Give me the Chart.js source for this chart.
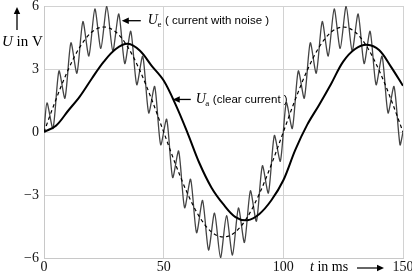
<!DOCTYPE html>
<html>
<head>
<meta charset="utf-8">
<script src="https://cdn.jsdelivr.net/npm/chart.js@4/dist/chart.umd.min.js"></script>
<style>
  body { margin: 0; background: #fff; }
  #wrap { width: 412px; height: 273px; }
</style>
</head>
<body>
<div id="wrap"><canvas id="chart" width="412" height="273"></canvas></div>
<script>
// time axis ticks (ms) and voltage ticks (V)
const xTicks = [0, 50, 100, 150];
const yTicks = [-6, -3, 0, 3, 6];

// U_e : current with noise (peaks / troughs)
const tNoisy = [0, 1.25, 3.75, 6.25, 8.75, 11.25, 13.75, 16.25, 18.75, 21.25, 23.75, 26.25, 28.75,
  31.25, 33.75, 36.25, 38.75, 41.25, 43.75, 46.25, 48.75, 51.25, 53.75, 56.25, 58.75, 61.25, 63.75,
  66.25, 68.75, 71.25, 73.75, 76.25, 78.75, 81.25, 83.75, 86.25, 88.75, 91.25, 93.75, 96.25, 98.75,
  101.25, 103.75, 106.25, 108.75, 111.25, 113.75, 116.25, 118.75, 121.25, 123.75, 126.25, 128.75,
  131.25, 133.75, 136.25, 138.75, 141.25, 143.75, 146.25, 148.75, 150];
const uNoisy = [0, 1.39, 0.17, 2.91, 1.61, 4.25, 2.80, 5.26, 3.62, 5.86, 3.98, 5.98, 3.86,
  5.62, 3.26, 4.80, 2.25, 3.61, 0.91, 2.17, -0.61, 0.61, -2.17, -0.91, -3.61, -2.25, -4.80,
  -3.26, -5.62, -3.86, -5.98, -3.98, -5.86, -3.62, -5.26, -2.80, -4.25, -1.61, -2.91, -0.17, -1.39,
  1.39, 0.17, 2.91, 1.61, 4.25, 2.80, 5.26, 3.62, 5.86, 3.98, 5.98, 3.86,
  5.62, 3.26, 4.80, 2.25, 3.61, 0.91, 2.17, -0.61, 0];

// dashed underlying signal
const tIdeal = [0, 5, 10, 15, 20, 25, 30, 35, 40, 45, 50, 55, 60, 65, 70, 75, 80, 85, 90, 95,
  100, 105, 110, 115, 120, 125, 130, 135, 140, 145, 150];
const uIdeal = [0, 1.55, 2.94, 4.05, 4.76, 5, 4.76, 4.05, 2.94, 1.55, 0, -1.55, -2.94, -4.05, -4.76,
  -5, -4.76, -4.05, -2.94, -1.55, 0, 1.55, 2.94, 4.05, 4.76, 5, 4.76, 4.05, 2.94, 1.55, 0];

// U_a : clear current
const tClear = [0, 5, 10, 15, 20, 25, 30, 35, 40, 45, 50, 55, 60, 65, 70, 75, 80, 85, 90, 95,
  100, 105, 110, 115, 120, 125, 130, 135, 140, 145, 150];
const uClear = [0, 0.3, 1.0, 1.7, 2.55, 3.35, 3.95, 4.2, 3.88, 3.15, 2.45, 1.3, -0.05, -1.5, -2.65,
  -3.45, -4.05, -4.2, -3.9, -3.25, -2.3, -0.85, 0.35, 1.3, 2.3, 3.35, 3.95, 4.15, 3.9, 3.1, 2.2];

function pts(xs, ys) {
  return xs.map((x, i) => ({x: x, y: ys[i]}));
}

const serif = "'Liberation Serif', 'DejaVu Serif', serif";
const sans = "'Liberation Sans', Arial, sans-serif";

function arrow(ctx, x1, y1, x2, y2) {
  // line from (x1,y1) with a filled head at (x2,y2)
  const a = Math.atan2(y2 - y1, x2 - x1);
  const hl = 7, hw = 3.2;
  ctx.beginPath();
  ctx.moveTo(x1, y1);
  ctx.lineTo(x2 - Math.cos(a) * hl * 0.8, y2 - Math.sin(a) * hl * 0.8);
  ctx.stroke();
  ctx.beginPath();
  ctx.moveTo(x2, y2);
  ctx.lineTo(x2 - Math.cos(a) * hl - Math.sin(a) * hw, y2 - Math.sin(a) * hl + Math.cos(a) * hw);
  ctx.lineTo(x2 - Math.cos(a) * hl + Math.sin(a) * hw, y2 - Math.sin(a) * hl - Math.cos(a) * hw);
  ctx.closePath();
  ctx.fill();
}

// U with subscript, then a sans note
function uLabel(ctx, x, y, sub, note) {
  ctx.textBaseline = 'middle';
  ctx.textAlign = 'left';
  ctx.font = 'italic 14px ' + serif;
  ctx.fillText('U', x, y);
  let w = ctx.measureText('U').width;
  ctx.font = '9px ' + serif;
  ctx.fillText(sub, x + w - 0.5, y + 4);
  w += ctx.measureText(sub).width + 3;
  ctx.font = '11.5px ' + sans;
  ctx.fillText(note, x + w, y);
}

const notes = {
  id: 'notes',
  afterDraw(chart) {
    const ctx = chart.ctx;
    const sx = chart.scales.x, sy = chart.scales.y;
    ctx.save();
    ctx.fillStyle = '#000';
    ctx.strokeStyle = '#000';
    ctx.lineWidth = 1.3;

    // U_e note
    const e1 = sx.getPixelForValue(32.5), ey = sy.getPixelForValue(5.3);
    arrow(ctx, e1 + 19, ey, e1, ey);
    uLabel(ctx, e1 + 26, ey, 'e', '( current with noise )');

    // U_a note
    const a1 = sx.getPixelForValue(53.8), ay = sy.getPixelForValue(1.55);
    arrow(ctx, a1 + 18, ay, a1, ay);
    uLabel(ctx, a1 + 23, ay, 'a', '(clear current )');

    // y axis title
    arrow(ctx, 17, 30, 17, 7);
    ctx.textBaseline = 'middle';
    ctx.font = 'italic 15px ' + serif;
    ctx.fillText('U', 2, 42);
    let w = ctx.measureText('U').width;
    ctx.font = '15px ' + serif;
    ctx.fillText(' in V', 2 + w, 42);

    // x axis title
    ctx.font = 'italic 14px ' + serif;
    ctx.fillText('t', 310, 267);
    w = ctx.measureText('t').width;
    ctx.font = '14px ' + serif;
    ctx.fillText(' in ms', 310 + w, 267);
    ctx.lineWidth = 1.2;
    arrow(ctx, 357, 268, 384, 268);
    ctx.restore();
  }
};

new Chart(document.getElementById('chart'), {
  type: 'line',
  data: {
    datasets: [
      {
        label: 'clear',
        data: pts(tClear, uClear),
        borderColor: '#000',
        borderWidth: 2,
        pointRadius: 0,
        tension: 0.35,
        order: 0
      },
      {
        label: 'ideal',
        data: pts(tIdeal, uIdeal),
        borderColor: '#000',
        borderWidth: 1.2,
        borderDash: [3.5, 3],
        pointRadius: 0,
        cubicInterpolationMode: 'monotone',
        order: 1
      },
      {
        label: 'noise',
        data: pts(tNoisy, uNoisy),
        borderColor: '#444',
        borderWidth: 1.3,
        pointRadius: 0,
        tension: 0.25,
        order: 2
      }
    ]
  },
  options: {
    responsive: false,
    devicePixelRatio: 1,
    animation: false,
    layout: { padding: { top: 6, left: 0, right: 0, bottom: 0 } },
    plugins: { legend: { display: false }, tooltip: { enabled: false } },
    scales: {
      x: {
        type: 'linear',
        min: 0,
        max: 150,
        afterBuildTicks: s => { s.ticks = xTicks.map(v => ({value: v})); },
        ticks: { color: '#111', font: { family: serif, size: 14 }, padding: 1, maxRotation: 0 },
        grid: { color: '#d2d2d2', drawTicks: false },
        border: { color: '#c8c8c8' },
        afterFit: s => { s.height = 15; s.paddingRight = 9; s.paddingLeft = 0; }
      },
      y: {
        min: -6,
        max: 6,
        afterBuildTicks: s => { s.ticks = yTicks.map(v => ({value: v})); },
        ticks: {
          color: '#111',
          font: { family: serif, size: 14 },
          padding: 5,
          callback: v => (v < 0 ? '\u2212' + Math.abs(v) : '' + v)
        },
        grid: { color: '#d2d2d2', drawTicks: false },
        border: { color: '#c8c8c8' },
        afterFit: s => { s.width = 44; s.paddingTop = 0; s.paddingBottom = 0; }
      }
    }
  },
  plugins: [notes]
});
</script>
</body>
</html>
